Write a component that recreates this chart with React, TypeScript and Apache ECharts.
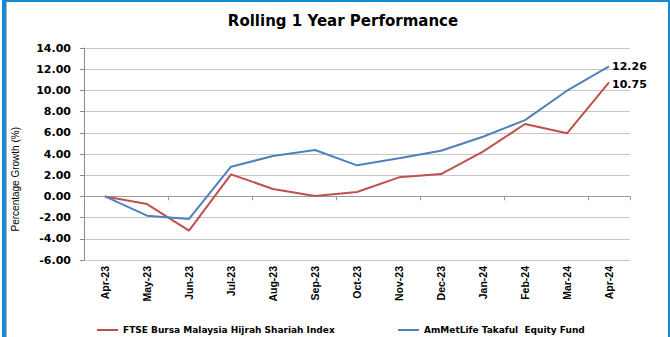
import React, { useEffect, useRef } from "react";
import * as echarts from "echarts";

// Monthly rolling one-year growth (%)
const months = [
  "Apr-23", "May-23", "Jun-23", "Jul-23", "Aug-23", "Sep-23", "Oct-23",
  "Nov-23", "Dec-23", "Jan-24", "Feb-24", "Mar-24", "Apr-24",
];
const indexName = "FTSE Bursa Malaysia Hijrah Shariah Index";
const fundName = "AmMetLife Takaful  Equity Fund";
const indexValues = [0, -0.72, -3.23, 2.08, 0.7, 0.04, 0.41, 1.8, 2.11, 4.22, 6.83, 5.95, 10.75];
const fundValues = [0, -1.82, -2.13, 2.8, 3.81, 4.38, 2.93, 3.59, 4.31, 5.63, 7.2, 9.97, 12.26];
const yMin = -6;
const yMax = 14;
const yStep = 2;

const RED = "#c0504d";
const BLUE = "#4f81bd";
const FRAME = "#168bd5";

export default function App() {
  const ref = useRef<HTMLDivElement>(null);

  useEffect(() => {
    if (!ref.current) return;
    const chart = echarts.init(ref.current, null, { renderer: "svg" });
    const endLabel = (offsetY: number) => ({
      show: true,
      distance: 3,
      offset: [0, offsetY],
      formatter: (p: any) => Number(p.value).toFixed(2),
      fontFamily: "DejaVu Sans",
      fontWeight: "bold" as const,
      fontSize: 11,
      color: "#000",
    });
    const legendText = {
      fontFamily: "DejaVu Sans",
      fontWeight: "bold" as const,
      fontSize: 9,
      color: "#000",
      lineHeight: 10,
    };

    chart.setOption({
      animation: false,
      backgroundColor: "#fff",
      title: {
        text: "Rolling 1 Year Performance",
        left: 338,
        textAlign: "center",
        top: 8,
        textStyle: {
          fontFamily: "DejaVu Sans",
          fontWeight: "bold",
          fontSize: 15,
          color: "#000",
        },
      },
      grid: { left: 84, right: 40, top: 48, bottom: 77, containLabel: false },
      legend: [
        {
          data: [indexName],
          left: 92,
          top: 320,
          icon: "rect",
          itemWidth: 21,
          itemHeight: 2,
          textStyle: legendText,
        },
        {
          data: [fundName],
          left: 393,
          top: 320,
          icon: "rect",
          itemWidth: 21,
          itemHeight: 2,
          textStyle: legendText,
        },
      ],
      xAxis: [
        {
          type: "category",
          data: months,
          boundaryGap: true,
          axisLine: { show: true, onZero: true, lineStyle: { color: "#9a9a9a", width: 1 } },
          axisTick: { show: true, length: 4, lineStyle: { color: "#9a9a9a" } },
          axisLabel: { show: false },
          splitLine: { show: false },
        },
        {
          type: "category",
          data: months,
          position: "bottom",
          boundaryGap: true,
          axisLine: { show: false, onZero: false },
          axisTick: { show: false },
          axisLabel: {
            rotate: 90,
            margin: 6,
            fontFamily: "Liberation Sans",
            fontWeight: "bold",
            fontSize: 10.5,
            color: "#000",
          },
          splitLine: { show: false },
        },
      ],
      yAxis: {
        type: "value",
        min: yMin,
        max: yMax,
        interval: yStep,
        axisLine: { show: true, lineStyle: { color: "#8c8c8c" } },
        axisTick: { show: true, length: 4, lineStyle: { color: "#8c8c8c" } },
        axisLabel: {
          margin: 13,
          formatter: (v: number) => v.toFixed(2),
          fontFamily: "DejaVu Sans",
          fontWeight: "bold",
          fontSize: 11,
          color: "#000",
        },
        splitLine: { show: true, lineStyle: { color: "#c6c6c6", width: 1 } },
      },
      series: [
        {
          name: indexName,
          type: "line",
          xAxisIndex: 0,
          data: indexValues,
          showSymbol: false,
          symbol: "none",
          lineStyle: { color: RED, width: 2 },
          itemStyle: { color: RED },
          endLabel: endLabel(2),
          z: 3,
        },
        {
          name: fundName,
          type: "line",
          xAxisIndex: 0,
          data: fundValues,
          showSymbol: false,
          symbol: "none",
          lineStyle: { color: BLUE, width: 2 },
          itemStyle: { color: BLUE },
          endLabel: endLabel(0),
          z: 4,
        },
      ],
      graphic: [
        {
          type: "text",
          left: 10,
          top: 127,
          rotation: Math.PI / 2,
          style: {
            text: "Percentage Growth (%)",
            fontFamily: "Liberation Sans",
            fontSize: 10,
            fill: "#000",
          },
        },
        // panel frame
        { type: "rect", shape: { x: 2, y: 0, width: 4, height: 337 }, style: { fill: FRAME } },
        { type: "rect", shape: { x: 2, y: 0, width: 668, height: 2 }, style: { fill: FRAME } },
        { type: "rect", shape: { x: 668, y: 0, width: 2, height: 337 }, style: { fill: FRAME } },
        { type: "rect", shape: { x: 6, y: 2, width: 1, height: 335 }, style: { fill: "#b5b5b5" } },
      ],
    });

    return () => chart.dispose();
  }, []);

  return (
    <div
      ref={ref}
      style={{ position: "fixed", left: 0, top: 0, width: 670, height: 337 }}
    />
  );
}
